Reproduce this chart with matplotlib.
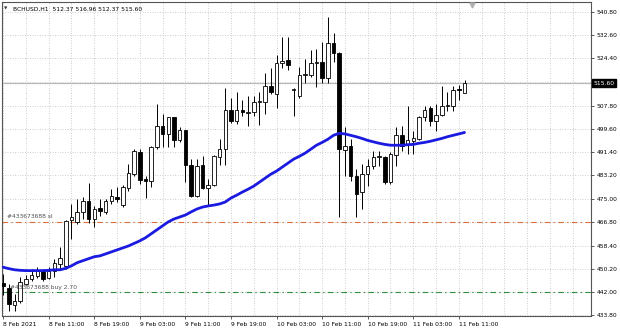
import matplotlib
matplotlib.use("Agg")
import matplotlib.pyplot as plt
from matplotlib.transforms import blended_transform_factory

# BCHUSD H1, one bar per hour from 8 Feb 03:00
opens = [445.3, 443.3, 437.5, 439.0, 445.0, 446.8, 447.8, 449.6, 447.0, 449.6,
         452.0, 451.3, 467.5, 466.8, 470.3, 474.1, 467.8, 471.7, 470.3, 474.1,
         475.5, 472.7, 478.7, 483.6, 491.3, 481.9, 481.2, 493.1, 500.5, 497.6,
         503.6, 495.5, 499.0, 486.8, 475.9, 486.8, 478.7, 479.8, 489.6, 492.4,
         506.4, 502.2, 506.4, 505.0, 505.4, 509.2, 508.9, 514.8, 512.0, 522.9,
         524.0, 513.4, 511.0, 518.7, 518.7, 522.9, 523.3, 517.6, 529.9, 526.4,
         492.0, 493.4, 482.9, 477.3, 483.6, 486.4, 489.6, 489.6, 480.8, 490.2,
         497.3, 494.1, 495.2, 495.9, 503.6, 506.8, 502.2, 504.3, 507.5, 507.8,
         513.8, 512.37]
highs = [448.5, 445.0, 441.5, 447.5, 448.2, 450.3, 451.0, 450.3, 451.0, 453.8,
         458.0, 467.4, 473.1, 474.8, 475.5, 480.5, 472.4, 474.8, 474.8, 478.3,
         479.0, 479.8, 487.1, 492.4, 492.4, 482.9, 493.4, 508.2, 504.7, 503.9,
         503.9, 500.1, 499.3, 488.9, 488.9, 489.9, 481.9, 490.2, 495.9, 514.1,
         510.6, 512.4, 509.9, 511.3, 511.0, 512.7, 519.4, 521.2, 525.7, 532.0,
         532.0, 514.1, 521.5, 524.3, 527.5, 527.8, 530.3, 539.0, 533.4, 526.8,
         500.1, 495.9, 485.4, 487.1, 488.9, 491.7, 491.7, 489.9, 491.3, 500.1,
         500.5, 507.5, 498.7, 504.0, 507.5, 507.8, 508.2, 514.8, 512.4, 514.8,
         515.2, 516.96]
lows = [441.0, 435.2, 435.2, 438.3, 444.7, 446.1, 447.1, 446.1, 446.8, 447.5,
        450.3, 450.3, 460.8, 466.1, 467.8, 466.4, 465.0, 468.9, 469.6, 473.1,
        473.8, 472.0, 477.6, 482.9, 480.1, 475.2, 479.0, 492.4, 493.1, 493.1,
        493.1, 494.8, 480.8, 475.6, 475.5, 478.3, 472.4, 479.4, 486.8, 486.8,
        501.5, 501.2, 504.0, 500.5, 504.0, 500.8, 504.7, 511.7, 507.1, 521.2,
        520.5, 504.0, 510.6, 515.9, 518.0, 514.5, 515.9, 515.9, 523.3, 468.5,
        482.9, 481.2, 468.5, 471.3, 479.4, 485.4, 486.4, 480.1, 480.1, 486.4,
        491.7, 490.6, 490.6, 495.5, 502.2, 500.5, 498.7, 504.0, 505.7, 505.7,
        509.9, 512.37]
closes = [444.2, 438.0, 439.0, 445.7, 446.8, 448.2, 449.6, 446.8, 449.4, 452.4,
          454.2, 467.1, 468.5, 470.3, 474.1, 467.8, 471.3, 470.6, 474.1, 475.9,
          474.8, 479.0, 484.0, 491.7, 481.5, 481.2, 493.1, 500.5, 497.6, 503.6,
          495.5, 499.0, 486.8, 475.9, 486.4, 478.7, 479.8, 489.9, 492.4, 506.4,
          502.2, 506.4, 505.4, 505.4, 509.2, 509.5, 514.8, 512.4, 522.9, 523.6,
          522.2, 513.6, 518.7, 519.0, 522.9, 523.1, 517.6, 529.9, 526.4, 492.4,
          493.4, 482.9, 476.6, 483.6, 486.4, 489.6, 489.9, 480.8, 490.6, 497.3,
          493.4, 495.5, 496.2, 503.6, 506.1, 502.2, 504.3, 507.5, 507.8, 513.4,
          513.1, 515.60]
ma = [450.8, 450.3, 449.9, 449.7, 449.6, 449.6, 449.6, 449.6, 449.7, 449.9,
      449.9, 450.4, 451.3, 452.4, 453.1, 453.8, 454.5, 454.8, 455.5, 456.2,
      456.9, 457.6, 458.3, 459.2, 460.1, 461.2, 462.6, 464.0, 465.4, 466.8,
      467.8, 468.5, 469.2, 470.3, 471.3, 472.0, 472.4, 472.7, 473.1, 473.8,
      475.2, 476.2, 477.3, 478.3, 479.4, 480.8, 482.2, 483.6, 484.7, 486.1,
      487.5, 488.9, 489.9, 491.0, 492.4, 493.8, 494.8, 495.9, 497.3, 498.0,
      497.8, 497.3, 496.8, 496.2, 495.5, 495.0, 494.5, 494.1, 493.8, 493.8,
      493.8, 494.0, 494.1, 494.5, 494.8, 495.2, 495.7, 496.2, 496.8, 497.3,
      497.8, 498.3]

xtick_labels = ["8 Feb 2021", "8 Feb 11:00", "8 Feb 19:00", "9 Feb 03:00",
                "9 Feb 11:00", "9 Feb 19:00", "10 Feb 03:00", "10 Feb 11:00",
                "10 Feb 19:00", "11 Feb 03:00", "11 Feb 11:00"]
yticks = [540.80, 532.60, 524.40, 516.20, 507.80, 499.60, 491.40, 483.20,
          475.00, 466.80, 458.40, 450.20, 442.00, 433.80]
last_price = 515.60
sl_price = 466.80
buy_price = 442.00
order_id = "#433673688"

fs = 4.3
fig = plt.figure(figsize=(6.2, 3.31), dpi=100)
ax = fig.add_axes([2 / 620, 15 / 331, 589 / 620, 314 / 331])

n = len(opens)
xs = list(range(n))

# grid: horizontal at price ticks, vertical every 4 bars
for y in yticks:
    ax.axhline(y, color="#c8c8c8", lw=0.6, ls=(0, (1.2, 1.8)), zorder=0)
for gx in range(0, 104, 4):
    ax.axvline(gx, color="#c8c8c8", lw=0.6, ls=(0, (1.2, 1.8)), zorder=0)

# current price line
ax.axhline(last_price, color="#b8b8b8", lw=0.9, zorder=1)

# order lines
ax.axhline(sl_price, color="#d9703c", lw=0.8, dashes=(5, 3, 1.2, 3), zorder=1)
ax.axhline(buy_price, color="#2f8f3f", lw=0.8, dashes=(5, 3, 1.2, 3), zorder=1)
ax.text(0.7, sl_price + 0.9, order_id + " sl", fontsize=fs, color="#505050",
        va="bottom", ha="left", zorder=5)
ax.text(1.2, buy_price + 0.9, order_id + " buy 2.70", fontsize=fs, color="#505050",
        va="bottom", ha="left", zorder=5)

# candles
ax.vlines(xs, lows, highs, color="black", lw=0.7, zorder=3)
bottoms = [min(o, c) for o, c in zip(opens, closes)]
heights = [max(abs(c - o), 0.35) for o, c in zip(opens, closes)]
faces = ["white" if c >= o else "black" for o, c in zip(opens, closes)]
ax.bar(xs, heights, bottom=bottoms, width=0.62, color=faces,
       edgecolor="black", linewidth=0.6, zorder=4)

# moving average
ax.plot(xs, ma, color="#1a1ae0", lw=2.0, zorder=6, solid_capstyle="round")

ax.set_xlim(-0.2, 103.2)
ax.set_ylim(433.6, 544.3)

ax.yaxis.tick_right()
ax.set_yticks(yticks)
ax.set_yticklabels(["" if abs(v - 516.2) < 0.01 else "%.2f" % v for v in yticks])
ax.set_xticks(xs[::8])
ax.set_xticklabels(xtick_labels, ha="left")
ax.tick_params(axis="both", direction="out", length=2.5, width=0.6,
               colors="#404040", labelsize=fs, labelcolor="black")
ax.tick_params(axis="y", pad=1.5)
ax.tick_params(axis="x", pad=1.5)
for s in ax.spines.values():
    s.set_color("#555555")
    s.set_linewidth(0.8)

# last price tag
tr = blended_transform_factory(ax.transAxes, ax.transData)
ax.text(1.004, last_price, "%.2f" % last_price, transform=tr, fontsize=fs,
        color="white", ha="left", va="center", clip_on=False,
        bbox=dict(boxstyle="square,pad=0.25", fc="black", ec="black"))

# header and shift marker
fig.text(4 / 620, 1 - 9 / 331, "\u25bc", fontsize=3.2, color="#303030", va="center")
fig.text(13 / 620, 1 - 9 / 331, "BCHUSD,H1  512.37 516.96 512.37 515.60",
         fontsize=fs, color="black", va="center")
ax.plot([82.3], [543.4], marker="v", ms=3.5, color="#b0b0b0", clip_on=False,
        zorder=7)

fig.savefig("out.png", dpi=100)
